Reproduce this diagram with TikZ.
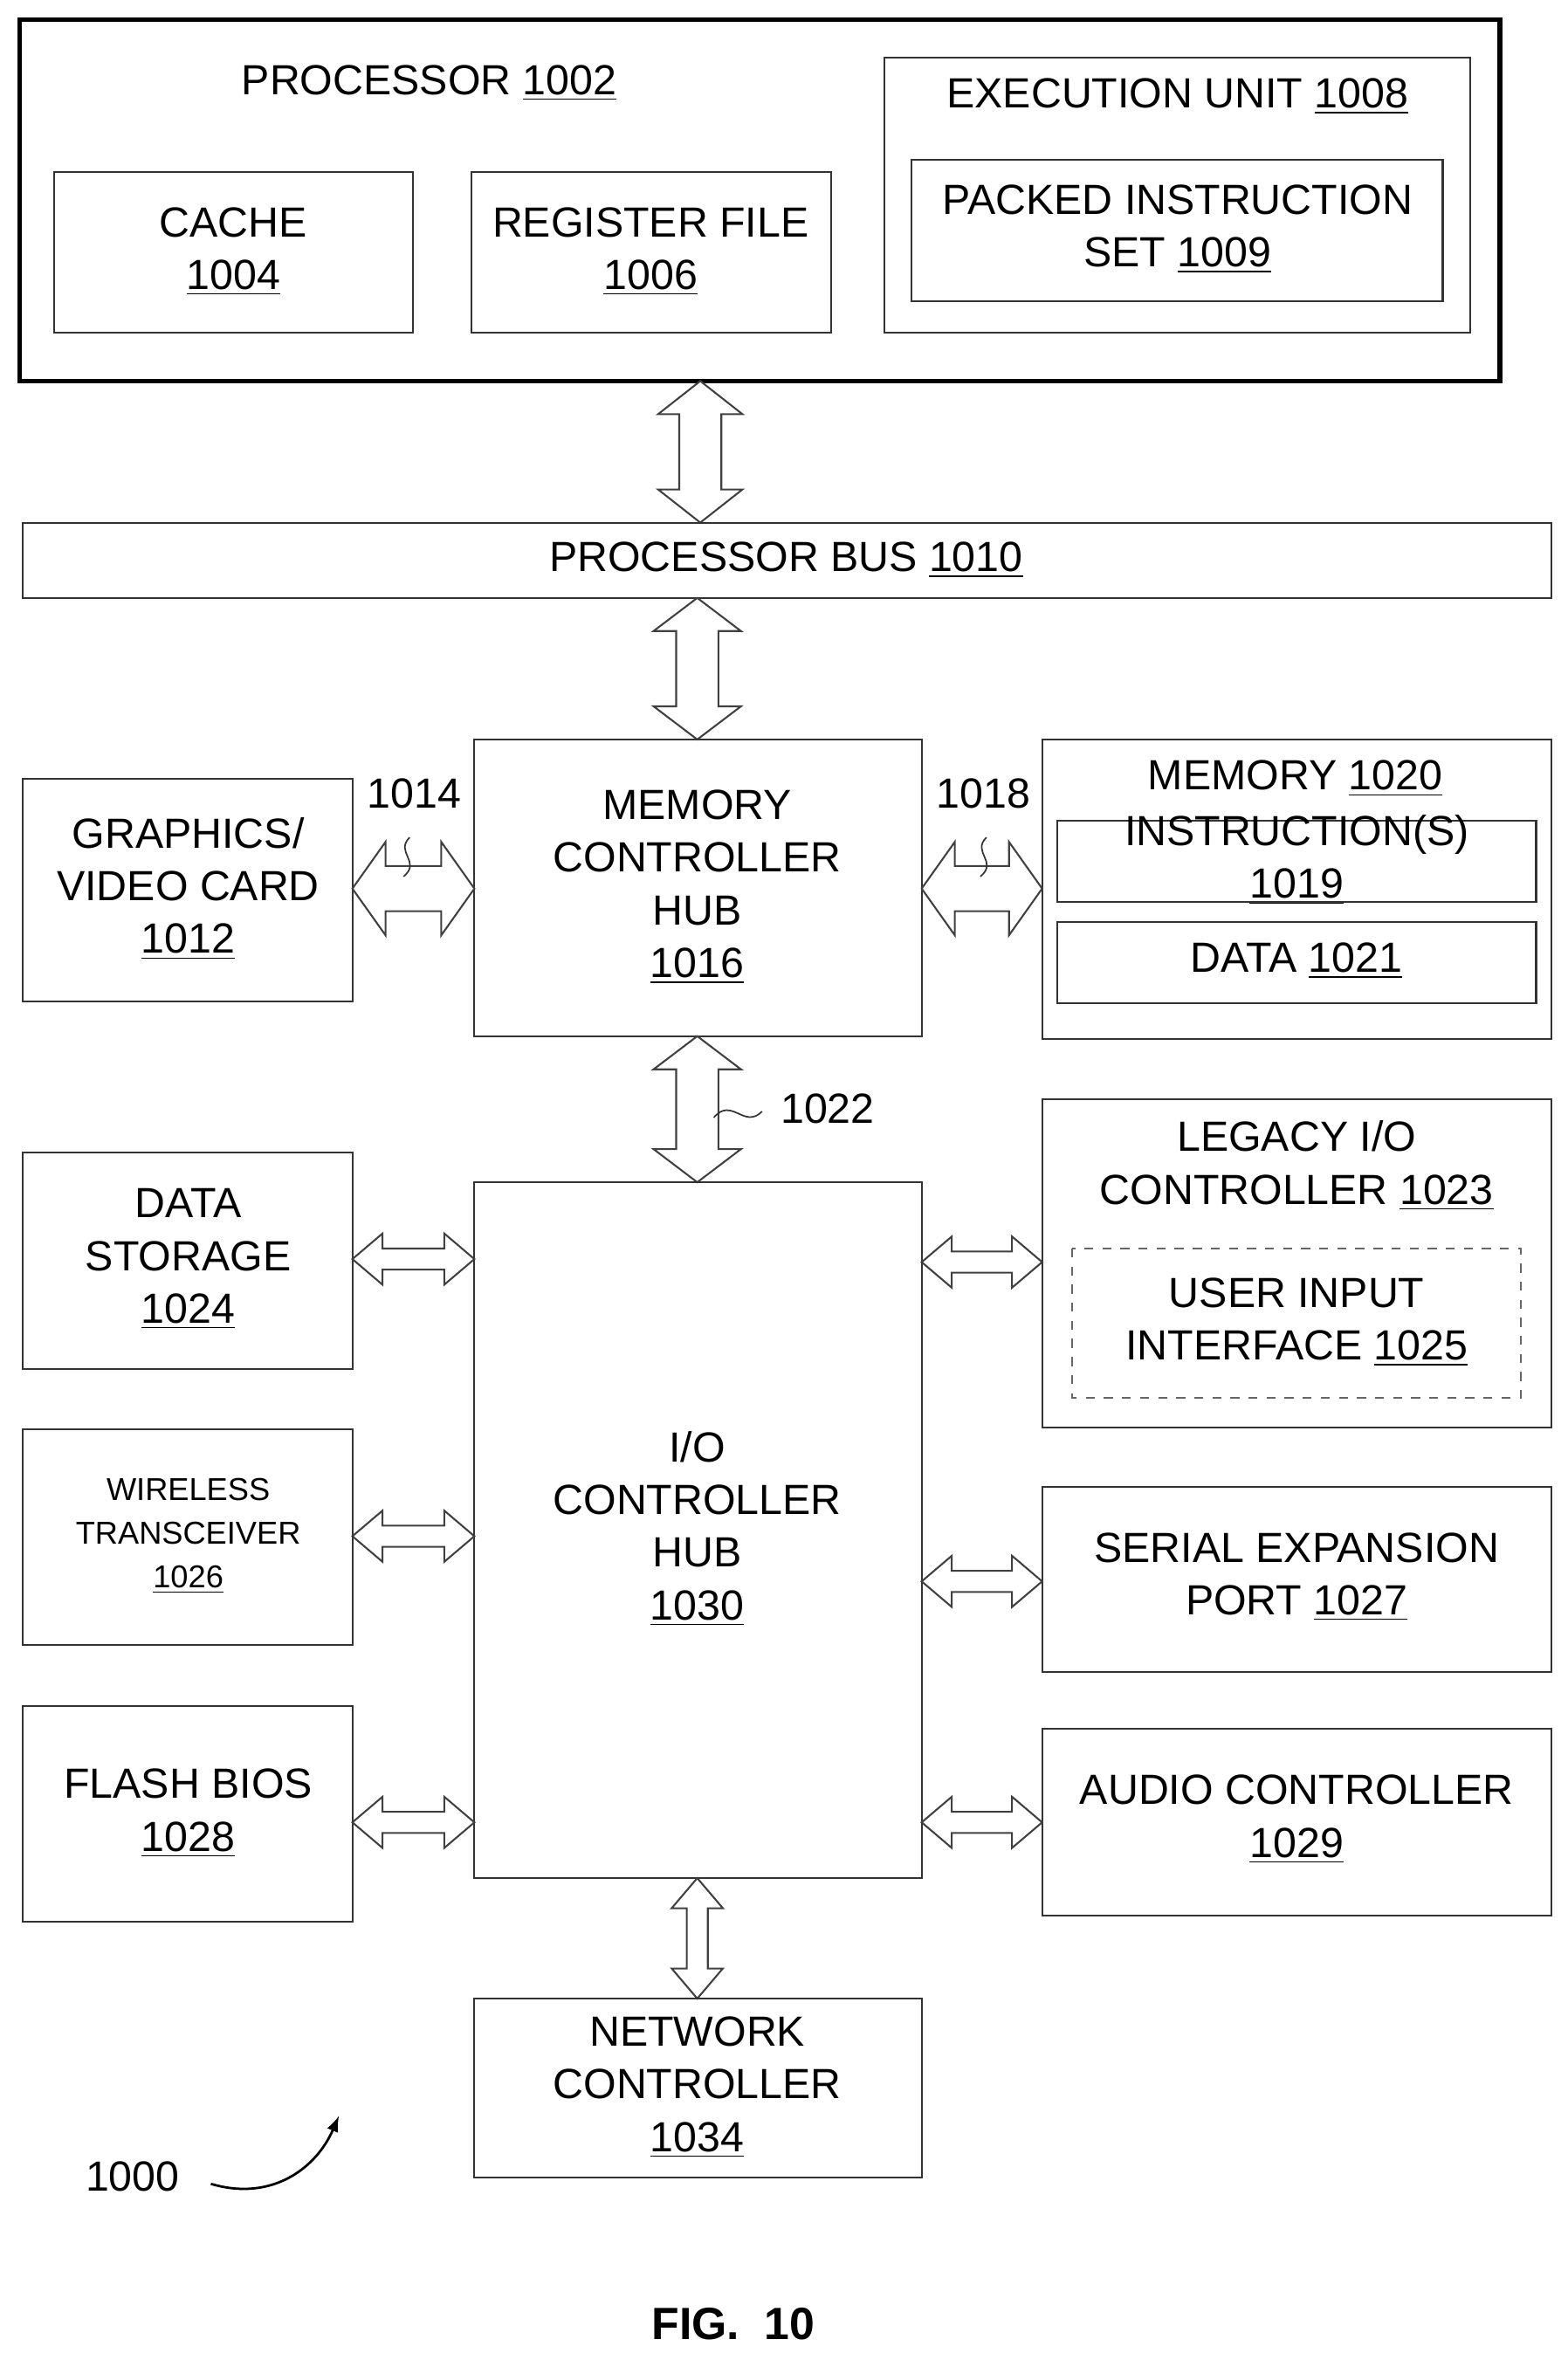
\documentclass[tikz,border=0pt]{standalone}
\usepackage{fontspec}
\setmainfont{Liberation Sans}
\begin{document}
\newcommand\harr[6]{% x1 x2 y headh shaft headlen
\draw[arr] (#1,#3) -- ({#1+#6},{#3-#4/2}) -- ({#1+#6},{#3-#5/2}) -- ({#2-#6},{#3-#5/2}) -- ({#2-#6},{#3-#4/2}) -- (#2,#3) -- ({#2-#6},{#3+#4/2}) -- ({#2-#6},{#3+#5/2}) -- ({#1+#6},{#3+#5/2}) -- ({#1+#6},{#3+#4/2}) -- cycle;}
\newcommand\varr[6]{% y1 y2 x headw shaft headlen
\draw[arr] (#3,#1) -- ({#3-#4/2},{#1+#6}) -- ({#3-#5/2},{#1+#6}) -- ({#3-#5/2},{#2-#6}) -- ({#3-#4/2},{#2-#6}) -- (#3,#2) -- ({#3+#4/2},{#2-#6}) -- ({#3+#5/2},{#2-#6}) -- ({#3+#5/2},{#1+#6}) -- ({#3+#4/2},{#1+#6}) -- cycle;}
\begin{tikzpicture}[x=0.5pt,y=-0.5pt,
  box/.style={draw=black!80,line width=0.6pt},
  arr/.style={draw=black!75,line width=0.6pt,fill=white},
  t/.style={font=\fontsize{14}{17.5}\selectfont,align=center,inner sep=0pt},
  ts/.style={font=\fontsize{10.5}{14.5}\selectfont,align=center,inner sep=0pt}]
\useasboundingbox (0,0) rectangle (1041,1567);
% processor
\draw[line width=1.5pt] (13,13) rectangle (996,253);
\node[t] (p) at (285,55) {PROCESSOR \underline{1002}};
\draw[box] (36,114) rectangle (274,221); \node[t] (c) at (155,167) {CACHE\\\underline{1004}};
\draw[box] (313,114) rectangle (552,221); \node[t] (r) at (432,167) {REGISTER FILE\\\underline{1006}};
\draw[box] (587,38) rectangle (976,221); \node[t] (e) at (782,64) {EXECUTION UNIT \underline{1008}};
\draw[box] (605,106) rectangle (958,200); \node[t] (pk) at (782,152) {PACKED INSTRUCTION\\SET \underline{1009}};
\varr{253}{347}{465}{56}{28}{22}
% bus
\draw[box] (15,347) rectangle (1030,397); \node[t] (bus) at (522,372) {PROCESSOR BUS \underline{1010}};
\varr{397}{491}{463}{58}{28}{22}
% MCH
\draw[box] (315,491) rectangle (612,688); \node[t] (mch) at (463,589) {MEMORY\\CONTROLLER\\HUB\\\underline{1016}};
\draw[box] (15,517) rectangle (234,665); \node[t] (g) at (125,590) {GRAPHICS/\\VIDEO CARD\\\underline{1012}};
\draw[box] (692,491) rectangle (1030,690); \node[t] (m) at (860,517) {MEMORY \underline{1020}};
\draw[box] (702,545) rectangle (1020,599); \node[t] (ins) at (861,571) {INSTRUCTION(S)\\\underline{1019}};
\draw[box] (702,612) rectangle (1020,666); \node[t] (d) at (861,638) {DATA \underline{1021}};
\harr{234}{315}{590}{62}{30}{22}
\harr{612}{692}{590}{62}{30}{22}
\node[t] (l14) at (275,527) {1014};
\node[t] (l18) at (653,527) {1018};
\draw[black!80,line width=0.5pt] (272,556) .. controls (262,566) and (280,572) .. (268,582);
\draw[black!80,line width=0.5pt] (655,556) .. controls (645,566) and (663,572) .. (651,582);
\varr{688}{785}{463}{58}{28}{22}
\node[t,anchor=west] (l22) at (518,736) {1022};
\draw[black!80,line width=0.5pt] (474,742) .. controls (486,728) and (494,750) .. (506,738);
% IOCH
\draw[box] (315,785) rectangle (612,1247); \node[t] (io) at (463,1015) {I/O\\CONTROLLER\\HUB\\\underline{1030}};
\draw[box] (15,765) rectangle (234,909); \node[t] (ds) at (125,836) {DATA\\STORAGE\\\underline{1024}};
\draw[box] (15,949) rectangle (234,1092); \node[ts] (w) at (125,1020) {WIRELESS\\TRANSCEIVER\\\underline{1026}};
\draw[box] (15,1133) rectangle (234,1276); \node[t] (f) at (125,1204) {FLASH BIOS\\\underline{1028}};
\draw[box] (692,730) rectangle (1030,948); \node[t] (lg) at (861,774) {LEGACY I/O\\CONTROLLER \underline{1023}};
\draw[box,dashed,draw=black!60] (712,829) rectangle (1010,928); \node[t] (ui) at (861,878) {USER INPUT\\INTERFACE \underline{1025}};
\draw[box] (692,987) rectangle (1030,1110); \node[t] (se) at (861,1047) {SERIAL EXPANSION\\PORT \underline{1027}};
\draw[box] (692,1148) rectangle (1030,1272); \node[t] (au) at (861,1208) {AUDIO CONTROLLER\\\underline{1029}};
\harr{234}{315}{836}{34}{14}{20}
\harr{234}{315}{1020}{34}{14}{20}
\harr{234}{315}{1210}{34}{14}{20}
\harr{612}{692}{838}{34}{14}{20}
\harr{612}{692}{1050}{34}{14}{20}
\harr{612}{692}{1210}{34}{14}{20}
\varr{1247}{1327}{463}{34}{14}{20}
\draw[box] (315,1327) rectangle (612,1446); \node[t] (n) at (463,1386) {NETWORK\\CONTROLLER\\\underline{1034}};
\node[t] (l1000) at (88,1445) {1000};
\draw[line width=0.8pt,-latex] (140,1450) .. controls (180,1462) and (210,1440) .. (225,1405);
\node[font=\bfseries\fontsize{15}{18}\selectfont] (fig) at (487,1543) {FIG.\ \ 10};
\end{tikzpicture}
\end{document}
